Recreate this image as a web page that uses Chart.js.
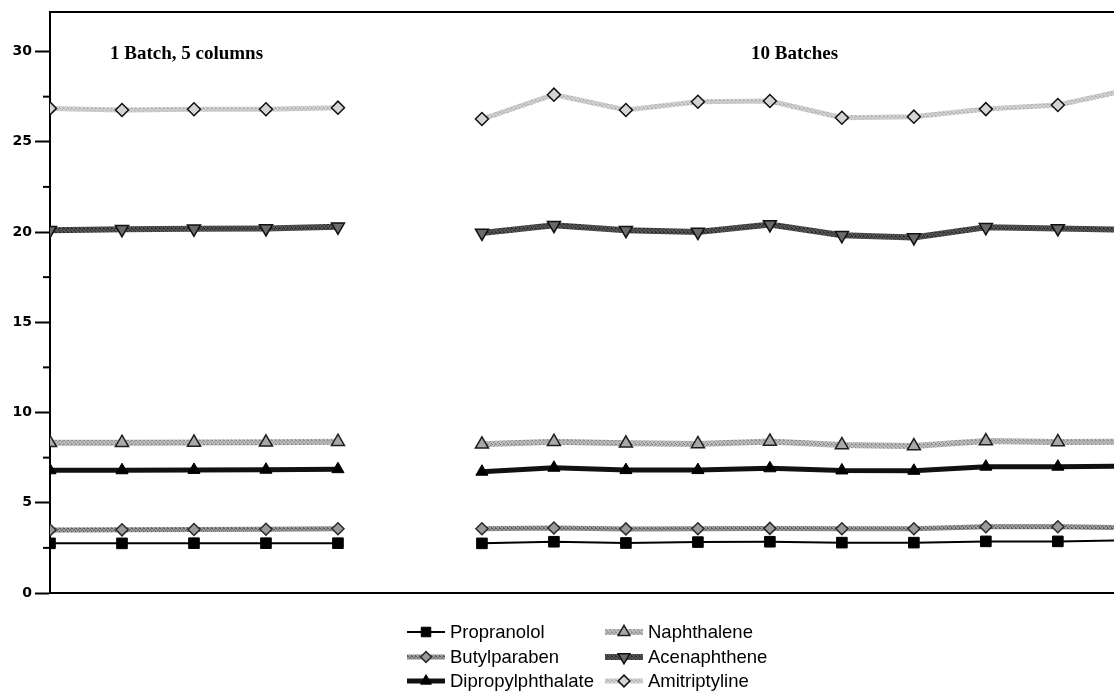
<!DOCTYPE html>
<html>
<head>
<meta charset="utf-8">
<title>Retention reproducibility</title>
<script src="https://cdn.jsdelivr.net/npm/chart.js@4.4.0/dist/chart.umd.min.js"></script>
<style>
  html, body { margin: 0; padding: 0; background: #fff; overflow: hidden; }
  #wrap { position: relative; width: 1114px; height: 693px; }
  #retChart { display: block; }
</style>
</head>
<body>
<div id="wrap"><canvas id="retChart" width="1114" height="693"></canvas></div>
<script>
// x categories: 5 columns from one batch, an empty slot, then 10 batches
const columnLabels = ["C1", "C2", "C3", "C4", "C5"];
const batchLabels = ["B1", "B2", "B3", "B4", "B5", "B6", "B7", "B8", "B9", "B10"];

// retention values per compound (columns / batches)
const propranololCols = [2.75, 2.75, 2.76, 2.76, 2.76];
const propranololBatches = [2.75, 2.84, 2.77, 2.82, 2.84, 2.79, 2.79, 2.86, 2.86, 2.92];
const butylparabenCols = [3.49, 3.50, 3.52, 3.53, 3.56];
const butylparabenBatches = [3.56, 3.60, 3.55, 3.56, 3.58, 3.56, 3.56, 3.67, 3.67, 3.62];
const dipropylCols = [6.80, 6.80, 6.82, 6.83, 6.86];
const dipropylBatches = [6.72, 6.94, 6.81, 6.81, 6.91, 6.79, 6.77, 7.00, 7.00, 7.03];
const naphthaleneCols = [8.32, 8.33, 8.34, 8.35, 8.38];
const naphthaleneBatches = [8.24, 8.38, 8.29, 8.26, 8.40, 8.20, 8.14, 8.42, 8.37, 8.38];
const acenaphtheneCols = [20.10, 20.15, 20.18, 20.20, 20.29];
const acenaphtheneBatches = [19.95, 20.38, 20.10, 20.00, 20.42, 19.82, 19.70, 20.26, 20.20, 20.12];
const amitriptylineCols = [26.85, 26.76, 26.80, 26.80, 26.89];
const amitriptylineBatches = [26.26, 27.61, 26.76, 27.22, 27.26, 26.33, 26.39, 26.81, 27.04, 27.90];

const yTicks = [0, 5, 10, 15, 20, 25, 30];

// combined slots: columns, one gap, batches
const slots = columnLabels.concat([""], batchLabels);

function serie(cols, batches) {
  const vals = cols.concat([null], batches);
  return vals.map((v, i) => ({ x: i, y: v }));
}

// dithered stroke, looks like the old halftone print
function hatch(light, dark) {
  const c = document.createElement("canvas");
  c.width = 4; c.height = 4;
  const g = c.getContext("2d");
  g.fillStyle = light;
  g.fillRect(0, 0, 4, 4);
  g.fillStyle = dark;
  [[0, 0], [2, 1], [1, 2], [3, 3], [3, 0]].forEach(p => g.fillRect(p[0], p[1], 1, 1));
  return g.createPattern(c, "repeat");
}

const datasets = [
  { label: "Propranolol", data: serie(propranololCols, propranololBatches),
    borderColor: "#000", borderWidth: 2, pointStyle: "rect", pointRadius: 7.5,
    pointBackgroundColor: "#000", pointBorderColor: "#000", pointBorderWidth: 1 },
  { label: "Butylparaben", data: serie(butylparabenCols, butylparabenBatches),
    borderColor: hatch("#9a9a9a", "#5a5a5a"), borderWidth: 5, pointStyle: "rectRot", pointRadius: 6,
    pointBackgroundColor: "#9a9a9a", pointBorderColor: "#2a2a2a", pointBorderWidth: 1.5 },
  { label: "Dipropylphthalate", data: serie(dipropylCols, dipropylBatches),
    borderColor: "#111", borderWidth: 5, pointStyle: "triangle", pointRadius: 7,
    pointBackgroundColor: "#000", pointBorderColor: "#000", pointBorderWidth: 1 },
  { label: "Naphthalene", data: serie(naphthaleneCols, naphthaleneBatches),
    borderColor: hatch("#bdbdbd", "#8c8c8c"), borderWidth: 6, pointStyle: "triangle", pointRadius: 7.5,
    pointBackgroundColor: "#a8a8a8", pointBorderColor: "#1e1e1e", pointBorderWidth: 1.5 },
  { label: "Acenaphthene", data: serie(acenaphtheneCols, acenaphtheneBatches),
    borderColor: hatch("#555", "#2a2a2a"), borderWidth: 6, pointStyle: "triangle", rotation: 180, pointRadius: 7.5,
    pointBackgroundColor: "#6a6a6a", pointBorderColor: "#111", pointBorderWidth: 1.5 },
  { label: "Amitriptyline", data: serie(amitriptylineCols, amitriptylineBatches),
    borderColor: hatch("#d2d2d2", "#b0b0b0"), borderWidth: 5, pointStyle: "rectRot", pointRadius: 6.5,
    pointBackgroundColor: "#d4d4d4", pointBorderColor: "#111", pointBorderWidth: 1.5 }
];
datasets.forEach(d => { d.clip = 0; d.spanGaps = false; d.tension = 0; d.fill = false; });

// legend order: two columns of three
const legendCols = [
  ["Propranolol", "Butylparaben", "Dipropylphthalate"],
  ["Naphthalene", "Acenaphthene", "Amitriptyline"]
];

const frame = {
  id: "frame",
  afterDraw(chart) {
    const ctx = chart.ctx;
    const a = chart.chartArea;
    const y = chart.scales.y;
    ctx.save();
    // top border
    ctx.strokeStyle = "#000";
    ctx.lineWidth = 2;
    ctx.beginPath();
    ctx.moveTo(a.left - 1, a.top);
    ctx.lineTo(a.right, a.top);
    ctx.stroke();
    // minor ticks between labelled ones
    for (let v = 2.5; v < y.max; v += 5) {
      const py = y.getPixelForValue(v);
      ctx.beginPath();
      ctx.moveTo(a.left - 7, py);
      ctx.lineTo(a.left, py);
      ctx.stroke();
    }
    // group titles
    ctx.fillStyle = "#000";
    ctx.font = "bold 19px 'Liberation Serif', 'Times New Roman', serif";
    ctx.textBaseline = "alphabetic";
    ctx.textAlign = "left";
    ctx.fillText("1 Batch, 5 columns", a.left + 60, 59);
    ctx.fillText("10 Batches", a.left + 701, 59);

    // legend
    ctx.font = "18.5px 'Liberation Sans', Arial, sans-serif";
    ctx.textBaseline = "middle";
    const colX = [407, 605];
    const rowY = [632, 657, 681];
    legendCols.forEach((names, ci) => {
      names.forEach((name, ri) => {
        const ds = chart.data.datasets.find(d => d.label === name);
        const x0 = colX[ci], yy = rowY[ri];
        ctx.strokeStyle = ds.borderColor;
        ctx.lineWidth = ds.borderWidth;
        ctx.beginPath();
        ctx.moveTo(x0, yy);
        ctx.lineTo(x0 + 38, yy);
        ctx.stroke();
        ctx.fillStyle = ds.pointBackgroundColor;
        ctx.strokeStyle = ds.pointBorderColor;
        ctx.lineWidth = ds.pointBorderWidth;
        Chart.helpers.drawPoint(ctx, {
          pointStyle: ds.pointStyle, rotation: ds.rotation || 0,
          radius: ds.pointRadius * 0.9, borderWidth: ds.pointBorderWidth
        }, x0 + 19, yy);
        ctx.fillStyle = "#000";
        ctx.fillText(name, x0 + 43, yy + 1);
      });
    });
    ctx.restore();
  }
};

new Chart(document.getElementById("retChart"), {
  type: "line",
  data: { datasets: datasets },
  options: {
    responsive: false,
    animation: false,
    layout: { autoPadding: false, padding: { top: 12, right: 0, left: 0, bottom: 0 } },
    plugins: { legend: { display: false }, tooltip: { enabled: false } },
    scales: {
      x: {
        type: "linear",
        min: 0,
        max: (slots.length - 1) - 0.22,
        ticks: { display: false },
        grid: { display: false },
        border: { display: true, color: "#000", width: 2 },
        afterFit(scale) { scale.height = 100; }
      },
      y: {
        min: 0,
        max: 32.19,
        afterBuildTicks(scale) { scale.ticks = yTicks.map(v => ({ value: v })); },
        ticks: {
          includeBounds: false,
          padding: 3,
          color: "#000",
          font: { family: "'DejaVu Sans', sans-serif", size: 14, weight: "bold" }
        },
        grid: { drawOnChartArea: false, drawTicks: true, tickLength: 15, tickColor: "#000", tickWidth: 2 },
        border: { display: true, color: "#000", width: 2 },
        afterFit(scale) { scale.width = 50; }
      }
    }
  },
  plugins: [frame]
});
</script>
</body>
</html>
